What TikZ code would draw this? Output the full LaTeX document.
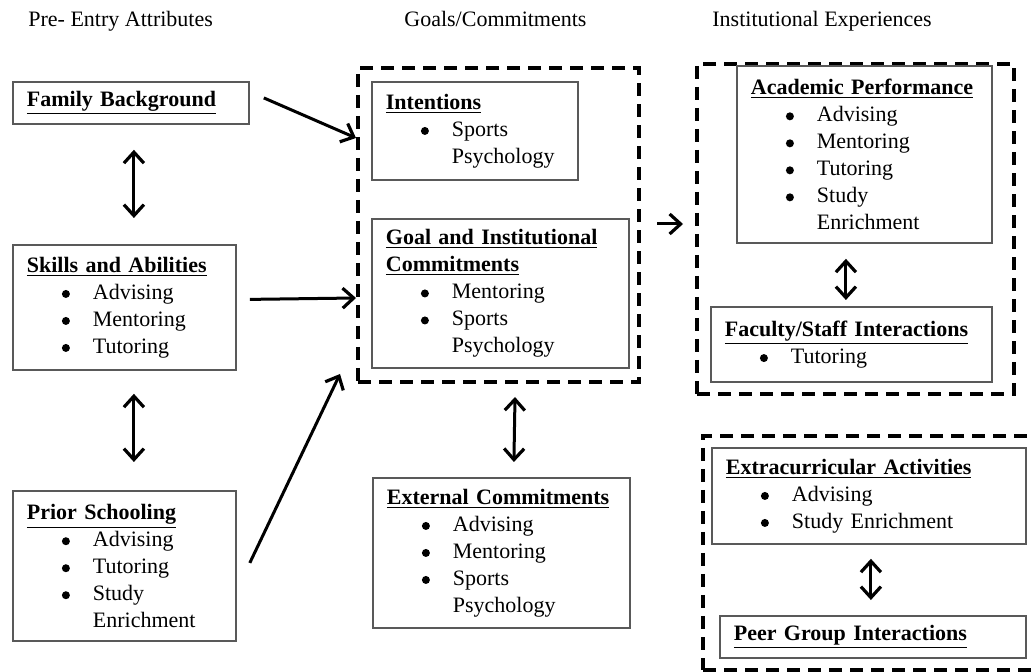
\documentclass[tikz,border=0pt]{standalone}
\usepackage{fontspec}
\setmainfont{Liberation Serif}
\usetikzlibrary{arrows.meta}

\newcommand{\boxtitle}[1]{\underline{\textbf{#1}}}
\newcommand{\bigbul}{\raisebox{0.6pt}{\tikz\fill (0,0) circle (2pt);}}
\newcommand{\itm}[1]{\hspace*{17.5pt}\makebox[15.5pt][l]{\bigbul}#1}
\newcommand{\itmcont}[1]{\hspace*{33pt}#1}

\begin{document}
\begin{tikzpicture}[
    x=0.5pt, y=-0.5pt,
    box/.style={draw=black!65, line width=0.9pt, anchor=north west, align=left, inner xsep=7pt, inner ysep=0pt, font=\fontsize{11}{13.5}\selectfont},
    grp/.style={draw, line width=2pt, dash pattern=on 6.5pt off 4pt, anchor=north west, inner sep=0pt},
    arr/.style={-{Straight Barb[length=5.5pt, width=10pt, line width=1.6pt]}, line width=1.5pt},
    dbl/.style={{Straight Barb[length=5.5pt, width=10pt, line width=1.6pt]}-{Straight Barb[length=5.5pt, width=10pt, line width=1.6pt]}, line width=1.5pt},
    head/.style={anchor=base west, inner sep=0pt, font=\fontsize{11}{13.5}\selectfont}
]
\useasboundingbox (0,0) rectangle (1032,672);
\clip (0,0) rectangle (1032,672);

% column headings
\node[head] (pre) at (28,27) {Pre- Entry Attributes};
\node[head] (gc) at (404,27) {Goals/Commitments};
\node[head] (ie) at (712,27) {Institutional Experiences};

% pre-entry attributes (left)
\node[box, text width=104pt, minimum height=21pt] (fam) at (12,81) {\boxtitle{Family Background}};
\node[box, text width=97.5pt, minimum height=62.5pt] (skills) at (12,244) {\boxtitle{Skills and Abilities}\\ \itm{Advising}\\ \itm{Mentoring}\\ \itm{Tutoring}};
\node[box, text width=97.5pt, minimum height=75pt] (prior) at (12,490) {\boxtitle{Prior Schooling}\\ \itm{Advising}\\ \itm{Tutoring}\\ \itm{Study}\\ \itmcont{Enrichment}};

% goals / commitments (middle)
\node[grp, minimum width=140.5pt, minimum height=157pt] (goals) at (356,66) {};
\node[box, text width=89pt, minimum height=49pt] (intent) at (371,81) {\boxtitle{Intentions}\\ \itm{Sports}\\ \itmcont{Psychology}};
\node[box, text width=114.5pt, minimum height=74.5pt] (commit) at (371,218) {\boxtitle{Goal and Institutional}\\ \boxtitle{Commitments}\\ \itm{Mentoring}\\ \itm{Sports}\\ \itmcont{Psychology}};
\node[box, text width=114.5pt, minimum height=75pt] (ext) at (372,477) {\boxtitle{External Commitments}\\ \itm{Advising}\\ \itm{Mentoring}\\ \itm{Sports}\\ \itmcont{Psychology}};

% institutional experiences (right)
\node[grp, minimum width=158.5pt, minimum height=165pt] (inst) at (695,62) {};
\node[box, text width=113.5pt, minimum height=88.5pt] (acad) at (736,65) {\boxtitle{Academic Performance}\\ \itm{Advising}\\ \itm{Mentoring}\\ \itm{Tutoring}\\ \itm{Study}\\ \itmcont{Enrichment}};
\node[box, text width=126.5pt, minimum height=37.5pt] (fac) at (710,306) {\boxtitle{Faculty/Staff Interactions}\\ \itm{Tutoring}};

\node[grp, minimum width=180pt, minimum height=117pt] (social) at (701,434) {};
\node[box, text width=143pt, minimum height=48pt] (extra) at (711,447) {\boxtitle{Extracurricular Activities}\\ \itm{Advising}\\ \itm{Study Enrichment}};
\node[box, text width=139pt, minimum height=21pt] (peer) at (719,615) {\boxtitle{Peer Group Interactions}};

% arrows between columns
\draw[arr] ([shift={(14,-5)}]fam.east) -- ([shift={(0,72)}]goals.north west);
\draw[arr] ([shift={(13,-8)}]skills.east) -- ([shift={(0,232)}]goals.north west);
\draw[arr] ([shift={(13,-3)}]prior.east) -- ([shift={(-16,-10)}]goals.south west);
\draw[arr] ([shift={(16,-1)}]goals.east) -- ([shift={(-12,-5)}]inst.west);

% two-way links
\draw[dbl] ([shift={(3,25)}]fam.south) -- ([shift={(9.5,-26)}]skills.north);
\draw[dbl] ([shift={(9.5,23)}]skills.south) -- ([shift={(9.5,-28)}]prior.north);
\draw[dbl] ([shift={(16.5,13)}]goals.south) -- ([shift={(12.5,-15)}]ext.north);
\draw[dbl] ([shift={(-18.5,15)}]acad.south) -- ([shift={(-5.5,-6)}]fac.north);
\draw[dbl] ([shift={(2,14)}]extra.south) -- ([shift={(-2,-15)}]peer.north);
\end{tikzpicture}
\end{document}
